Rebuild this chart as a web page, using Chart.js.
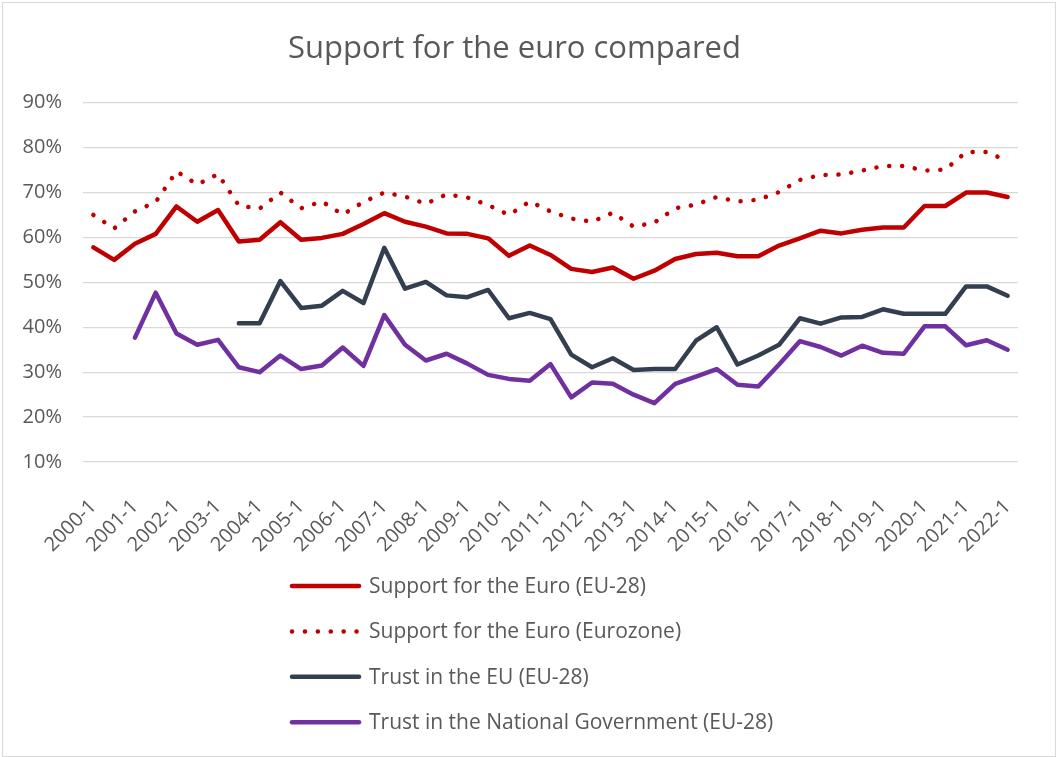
<!DOCTYPE html>
<html>
<head>
<meta charset="utf-8">
<title>Support for the euro compared</title>
<script src="https://cdn.jsdelivr.net/npm/chart.js@4.4.1/dist/chart.umd.min.js"></script>
<style>
    html, body { margin: 0; padding: 0; background: #ffffff; }
    canvas { display: block; }
</style>
</head>
<body>
<canvas id="euroChart" width="1056" height="757"></canvas>
<script>
// Survey waves (two per year)
const waves = [
    '2000-1', '2000-2', '2001-1', '2001-2', '2002-1', '2002-2', '2003-1', '2003-2',
    '2004-1', '2004-2', '2005-1', '2005-2', '2006-1', '2006-2', '2007-1', '2007-2',
    '2008-1', '2008-2', '2009-1', '2009-2', '2010-1', '2010-2', '2011-1', '2011-2',
    '2012-1', '2012-2', '2013-1', '2013-2', '2014-1', '2014-2', '2015-1', '2015-2',
    '2016-1', '2016-2', '2017-1', '2017-2', '2018-1', '2018-2', '2019-1', '2019-2',
    '2020-1', '2020-2', '2021-1', '2021-2', '2022-1'
];

// Percent values per wave
const supportEU28 = [
    57.8, 55.0, 58.6, 60.8, 66.9, 63.5, 66.1, 59.1, 59.5, 63.4, 59.5, 59.9,
    60.8, 63.0, 65.4, 63.5, 62.4, 60.9, 60.8, 59.8, 55.9, 58.2, 56.1, 53.0,
    52.3, 53.3, 50.8, 52.6, 55.2, 56.3, 56.6, 55.8, 55.8, 58.2, 59.8, 61.5,
    60.9, 61.7, 62.2, 62.2, 67.0, 67.0, 70.0, 70.0, 69.0
];

const supportEurozone = [
    65.0, 62.0, 65.8, 67.9, 74.7, 71.8, 74.1, 67.1, 66.4, 70.0, 66.5, 68.0,
    65.1, 67.9, 70.0, 69.1, 67.5, 69.6, 68.9, 67.2, 65.0, 68.0, 65.8, 64.2,
    63.5, 65.5, 62.4, 63.3, 66.5, 67.3, 69.0, 68.0, 68.4, 70.1, 72.8, 73.9,
    74.0, 74.9, 75.9, 75.9, 74.9, 75.1, 79.0, 79.0, 77.0
];

const trustEU = [
    null, null, null, null, null, null, null, 40.9, 40.9, 50.3, 44.3, 44.8,
    48.1, 45.4, 57.7, 48.6, 50.1, 47.1, 46.7, 48.3, 42.0, 43.2, 41.8, 33.9,
    31.1, 33.1, 30.5, 30.7, 30.7, 37.0, 40.0, 31.7, 33.7, 36.1, 42.0, 40.8,
    42.2, 42.3, 44.0, 43.0, 43.0, 43.0, 49.1, 49.1, 47.0
];

const trustNational = [
    null, null, 37.7, 47.7, 38.6, 36.1, 37.2, 31.1, 30.0, 33.7, 30.7, 31.5,
    35.5, 31.4, 42.7, 36.1, 32.6, 34.1, 31.9, 29.4, 28.5, 28.1, 31.8, 24.4,
    27.7, 27.4, 25.0, 23.1, 27.4, 29.0, 30.7, 27.2, 26.8, 31.7, 36.9, 35.6,
    33.7, 35.9, 34.3, 34.1, 40.2, 40.2, 36.0, 37.1, 35.0
];

const yTicks = [10, 20, 30, 40, 50, 60, 70, 80, 90];

const FONT = '"Open Sans", "Noto Sans", sans-serif';
const TEXT_GREY = '#595959';
const GRID_GREY = '#d9d9d9';

// White background and thin frame around the whole chart
const framePlugin = {
    id: 'frame',
    beforeDraw(chart) {
        const ctx = chart.ctx;
        ctx.save();
        ctx.fillStyle = '#ffffff';
        ctx.fillRect(0, 0, chart.width, chart.height);
        ctx.strokeStyle = GRID_GREY;
        ctx.lineWidth = 1;
        ctx.strokeRect(2.5, 2.5, chart.width - 3, chart.height - 3);
        ctx.restore();
    }
};

// One legend entry per row, below the axis labels
const stackedLegend = {
    id: 'stackedLegend',
    afterDraw(chart) {
        const ctx = chart.ctx;
        ctx.save();
        chart.data.datasets.forEach((ds, i) => {
            const y = 586 + i * 45.4;
            ctx.beginPath();
            ctx.strokeStyle = ds.borderColor;
            ctx.lineWidth = ds.borderWidth;
            ctx.lineCap = 'round';
            ctx.setLineDash(ds.borderDash || []);
            ctx.moveTo(292, y);
            ctx.lineTo(359, y);
            ctx.stroke();
            ctx.setLineDash([]);
            ctx.fillStyle = TEXT_GREY;
            ctx.font = '21px ' + FONT;
            ctx.textBaseline = 'middle';
            ctx.fillText(ds.label, 369, y + 1);
        });
        ctx.restore();
    }
};

const lineStyle = {
    borderWidth: 4.5,
    pointRadius: 0,
    pointHoverRadius: 0,
    tension: 0,
    fill: false,
    spanGaps: false,
    borderCapStyle: 'round',
    borderJoinStyle: 'round'
};

const ctx = document.getElementById('euroChart').getContext('2d');
const euroChart = new Chart(ctx, {
    type: 'line',
    data: {
        labels: waves,
        datasets: [
            {
                ...lineStyle,
                label: 'Support for the Euro (EU-28)',
                data: supportEU28,
                borderColor: '#c00000'
            },
            {
                ...lineStyle,
                label: 'Support for the Euro (Eurozone)',
                data: supportEurozone,
                borderColor: '#c00000',
                borderDash: [0.1, 12.8]
            },
            {
                ...lineStyle,
                label: 'Trust in the EU (EU-28)',
                data: trustEU,
                borderColor: '#333f50'
            },
            {
                ...lineStyle,
                label: 'Trust in the National Government (EU-28)',
                data: trustNational,
                borderColor: '#7030a0'
            }
        ]
    },
    options: {
        responsive: false,
        animation: false,
        layout: {
            padding: { left: 11, right: 38, top: 0, bottom: 195 }
        },
        plugins: {
            legend: { display: false },
            tooltip: { enabled: false },
            title: {
                display: true,
                text: 'Support for the euro compared',
                color: TEXT_GREY,
                font: { family: FONT, size: 31, weight: 'normal' },
                padding: { top: 31, bottom: 34.5 }
            }
        },
        scales: {
            x: {
                type: 'category',
                offset: true,
                grid: { display: false, drawTicks: false },
                border: { display: false },
                ticks: {
                    autoSkip: false,
                    minRotation: 45,
                    maxRotation: 45,
                    padding: 33,
                    color: TEXT_GREY,
                    font: { family: FONT, size: 20 },
                    callback: function (value, index) {
                        const label = this.getLabelForValue(value);
                        return label.endsWith('-1') ? label : '';
                    }
                },
                // keep the plot width fixed regardless of the rotated labels
                afterFit: (scale) => {
                    scale.height = 100;
                    scale.paddingLeft = 0;
                    scale.paddingRight = 0;
                }
            },
            y: {
                min: yTicks[0],
                max: yTicks[yTicks.length - 1],
                afterBuildTicks: (scale) => {
                    scale.ticks = yTicks.map(v => ({ value: v }));
                },
                grid: { color: GRID_GREY, lineWidth: 1.3, drawTicks: false },
                border: { display: false },
                ticks: {
                    padding: 21,
                    color: TEXT_GREY,
                    font: { family: FONT, size: 20 },
                    callback: (v) => v + '%'
                },
                afterFit: (scale) => { scale.width = 72; }
            }
        }
    },
    plugins: [framePlugin, stackedLegend]
});
</script>
</body>
</html>
